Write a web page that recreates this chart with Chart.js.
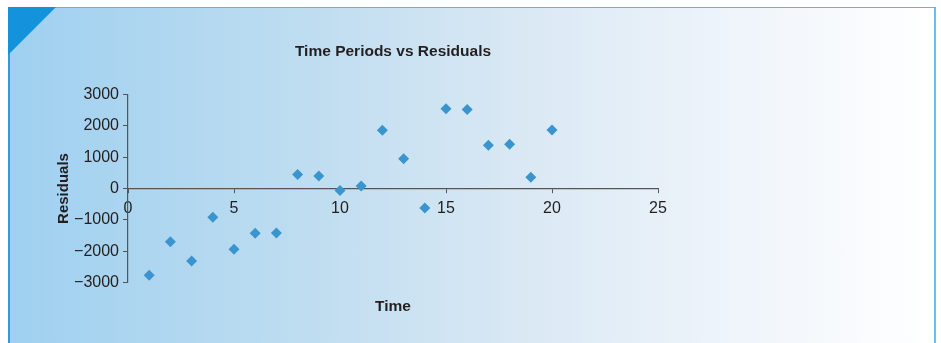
<!DOCTYPE html>
<html lang="en">
  <head>
    <meta charset="UTF-8" />
    <title>Time Periods vs Residuals</title>
    <script src="https://cdn.jsdelivr.net/npm/chart.js@4.4.0/dist/chart.umd.min.js"></script>
    <style>
      html, body { margin: 0; padding: 0; background: #fff; }
      body { width: 941px; height: 343px; position: relative; overflow: hidden; }
      .frame {
        position: absolute; left: 8px; top: 7px; width: 924px; height: 340px;
        border-top: 1px solid #5cb6ea; border-right: 2px solid #6fbdea;
        border-left: 2px solid #2a9ce2;
        background: linear-gradient(to right, #9fd0f0 0%, #bcdcf0 30%, #d9e8f4 55%, #eef4fa 78%, #ffffff 100%);
      }
      .corner {
        position: absolute; left: 8px; top: 7px; width: 0; height: 0;
        border-top: 48px solid #1493dc; border-right: 48px solid transparent;
      }
      #chart { position: absolute; left: 0; top: 0; }
    </style>
  </head>
  <body>
    <div class="frame"></div>
    <div class="corner"></div>
    <canvas id="chart" width="941" height="343"></canvas>

    <script>
      const periods = [1, 2, 3, 4, 5, 6, 7, 8, 9, 10, 11, 12, 13, 14, 15, 16, 17, 18, 19, 20];
      const residuals = [-2770, -1700, -2320, -920, -1940, -1430, -1420, 450, 400, -60,
        80, 1860, 950, -620, 2550, 2520, 1380, 1410, 360, 1870];
      const xTicks = [0, 5, 10, 15, 20, 25];
      const yTicks = [-3000, -2000, -1000, 0, 1000, 2000, 3000];

      const ink = "#231f20";
      const points = periods.map((p, i) => ({ x: p, y: residuals[i] }));

      new Chart(document.getElementById("chart"), {
        type: "scatter",
        data: {
          datasets: [
            {
              data: points,
              pointStyle: "rectRot",
              pointRadius: 5.5,
              pointBorderWidth: 0,
              backgroundColor: "#3a95cf",
              borderColor: "#3a95cf",
            },
          ],
        },
        options: {
          responsive: false,
          animation: false,
          layout: { padding: { left: 51, right: 283, top: 42, bottom: 27 } },
          plugins: {
            legend: { display: false },
            tooltip: { enabled: false },
            title: {
              display: true,
              text: "Time Periods vs Residuals",
              fullSize: false,
              color: ink,
              font: { family: "Liberation Sans, Arial", size: 15.5, weight: "bold" },
              padding: { top: 0, bottom: 34 },
            },
            subtitle: {
              display: true,
              position: "bottom",
              text: "Time",
              fullSize: false,
              color: ink,
              font: { family: "Liberation Sans, Arial", size: 15.5, weight: "bold" },
              padding: { top: 15, bottom: 0 },
            },
          },
          scales: {
            x: {
              type: "linear",
              position: { y: 0 },
              min: 0,
              max: 25,
              afterFit: (s) => { s.height = 0; },
              afterBuildTicks: (s) => { s.ticks = xTicks.map((v) => ({ value: v })); },
              grid: { display: true, drawOnChartArea: false, drawTicks: true, tickLength: 4, color: "#555" },
              border: { display: true, color: "#555", width: 1.2 },
              ticks: {
                color: ink, padding: 6, maxRotation: 0,
                font: { family: "Liberation Sans, Arial", size: 16 },
              },
            },
            y: {
              type: "linear",
              position: "left",
              min: -3000,
              max: 3000,
              afterFit: (s) => { s.width = 77; },
              afterBuildTicks: (s) => { s.ticks = yTicks.map((v) => ({ value: v })); },
              grid: { display: true, drawOnChartArea: false, drawTicks: true, tickLength: 5, color: "#555" },
              border: { display: true, color: "#555", width: 1.2 },
              ticks: {
                color: ink, padding: 4,
                font: { family: "Liberation Sans, Arial", size: 16 },
                callback: (v) => (v < 0 ? "\u2212" + Math.abs(v) : String(v)),
              },
              title: {
                display: true,
                text: "Residuals",
                color: ink,
                font: { family: "Liberation Sans, Arial", size: 15, weight: "bold" },
              },
            },
          },
        },
      });
    </script>
  </body>
</html>
